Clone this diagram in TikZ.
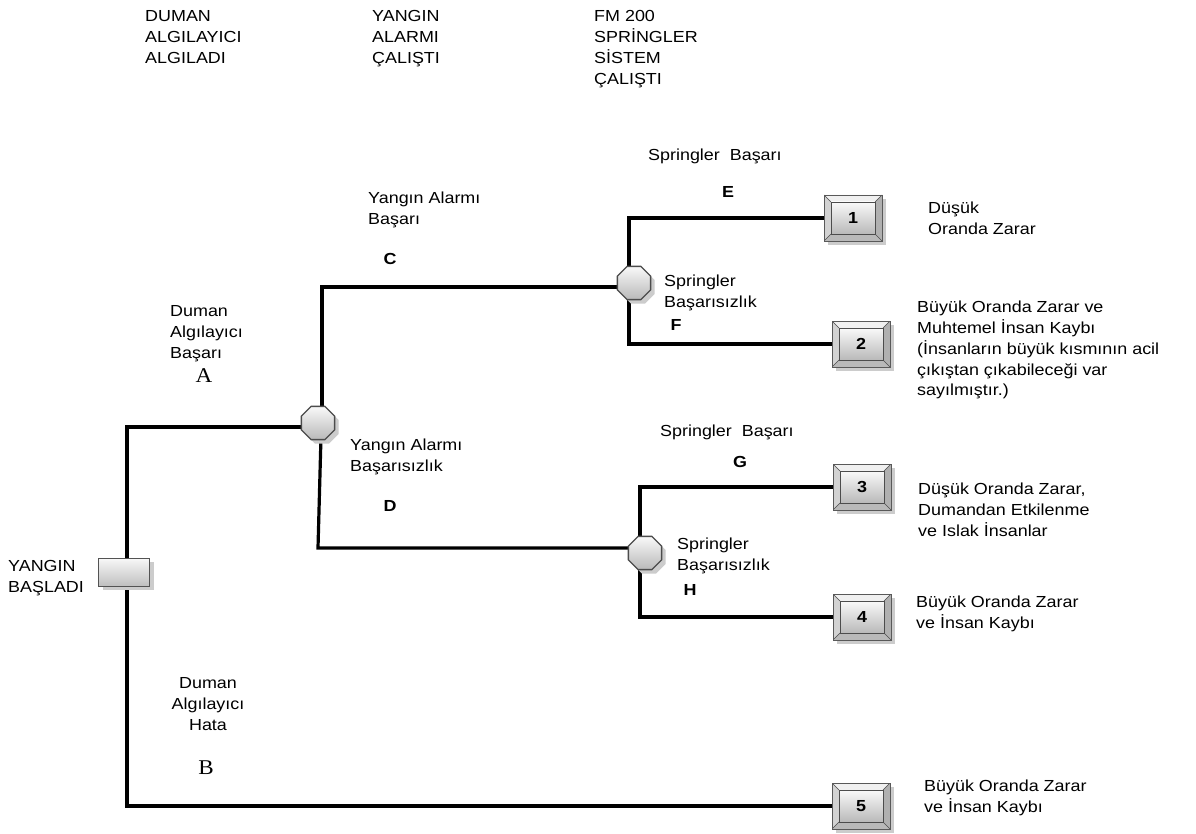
\documentclass[tikz,border=0pt]{standalone}
\usepackage{fontspec}
\setmainfont{Liberation Sans}[FakeStretch=1.12]
\newfontfamily\serifA{Liberation Serif}[FakeStretch=1.1]
\usetikzlibrary{shapes.geometric,shadows,calc,backgrounds}
\tikzset{
  lbl/.style={anchor=north west, inner sep=0pt, align=left, font=\fontsize{16}{20.8}\selectfont},
  clbl/.style={anchor=north, inner sep=0pt, align=center, font=\fontsize{16}{20.8}\selectfont},
  letter/.style={inner sep=0pt, font=\fontsize{16}{19}\selectfont\bfseries},
  serifletter/.style={inner sep=0pt, font=\fontsize{21}{24}\selectfont\serifA},
  conn/.style={line width=3.2pt, line join=miter, line cap=rect},
  shad/.style={drop shadow={shadow xshift=4pt, shadow yshift=-4pt, fill=gray!40, opacity=1}},
  startbox/.style={rectangle, minimum width=51pt, minimum height=28pt, inner sep=0pt,
    draw=gray!65!black, line width=1pt, top color=gray!5, bottom color=gray!50, shad},
  oct/.style={regular polygon, regular polygon sides=8, minimum size=36pt, inner sep=0pt,
    draw=gray!60!black, line width=1.3pt, top color=gray!5, bottom color=gray!55, shad},
  endbox/.style={rectangle, minimum width=58pt, minimum height=46pt, inner sep=0pt,
    draw=gray!70!black, line width=0.8pt, fill=gray!55, shad,
    font=\fontsize{16}{19}\selectfont\bfseries,
    path picture={
      \fill[gray!12] (path picture bounding box.north west) -- (path picture bounding box.north east)
        -- ($(path picture bounding box.north east)+(-7pt,-7pt)$) -- ($(path picture bounding box.north west)+(7pt,-7pt)$) -- cycle;
      \fill[gray!35] (path picture bounding box.north west) -- (path picture bounding box.south west)
        -- ($(path picture bounding box.south west)+(7pt,7pt)$) -- ($(path picture bounding box.north west)+(7pt,-7pt)$) -- cycle;
      \fill[gray!62] (path picture bounding box.north east) -- (path picture bounding box.south east)
        -- ($(path picture bounding box.south east)+(-7pt,7pt)$) -- ($(path picture bounding box.north east)+(-7pt,-7pt)$) -- cycle;
      \fill[gray!55] (path picture bounding box.south west) -- (path picture bounding box.south east)
        -- ($(path picture bounding box.south east)+(-7pt,7pt)$) -- ($(path picture bounding box.south west)+(7pt,7pt)$) -- cycle;
      \shade[top color=gray!5, bottom color=gray!55, draw=gray!60!black, line width=0.6pt]
        ($(path picture bounding box.north west)+(7pt,-7pt)$) rectangle ($(path picture bounding box.south east)+(-7pt,7pt)$);
      \draw[gray!60!black, line width=0.6pt]
        (path picture bounding box.north west) -- ($(path picture bounding box.north west)+(7pt,-7pt)$)
        (path picture bounding box.north east) -- ($(path picture bounding box.north east)+(-7pt,-7pt)$)
        (path picture bounding box.south west) -- ($(path picture bounding box.south west)+(7pt,7pt)$)
        (path picture bounding box.south east) -- ($(path picture bounding box.south east)+(-7pt,7pt)$);
    }},
}
\begin{document}
\begin{tikzpicture}[x=1pt,y=-1pt]
\useasboundingbox (0,0) rectangle (1196,834);

% headings
\node[lbl] (h1) at (145,7) {\strut DUMAN\\ALGILAYICI\\ALGILADI};
\node[lbl] (h2) at (372,7) {\strut YANGIN\\ALARMI\\ÇALIŞTI};
\node[lbl] (h3) at (594,7) {\strut FM 200\\SPRİNGLER\\SİSTEM\\ÇALIŞTI};

% nodes
\node[startbox] (start) at (124,572) {};
\node[oct] (oct1) at (318,423) {};
\node[oct] (oct2) at (634,283) {};
\node[oct] (oct3) at (645,553) {};
\node[endbox] (box1) at (853,218) {1};
\node[endbox] (box2) at (861,344) {2};
\node[endbox] (box3) at (862,487) {3};
\node[endbox] (box4) at (862,617) {4};
\node[endbox] (box5) at (861,806) {5};

% connector corners
\coordinate (j0t) at (127,427);
\coordinate (j0b) at (127,806);
\coordinate (u1) at (322,287);
\coordinate (d1a) at (321,436);
\coordinate (d1) at (318,548);
\coordinate (v2) at (629,283);
\coordinate (v3) at (640,553);

\begin{scope}[on background layer]
  \fill[white] (0,0) rectangle (1196,834);
  \draw[conn] (j0t) -- (j0b);
  \draw[conn] (j0t) -- (j0t -| oct1);
  \draw[conn] (j0b) -- (box5);
  \draw[conn] (u1 |- oct1) -- (u1) -- (u1 -| oct2);
  \draw[conn] (d1a) -- (d1) -- (d1 -| oct3);
  \draw[conn] (v2) -- (v2 |- box1) -- (box1);
  \draw[conn] (v2) -- (v2 |- box2) -- (box2);
  \draw[conn] (v3) -- (v3 |- box3) -- (box3);
  \draw[conn] (v3) -- (v3 |- box4) -- (box4);
\end{scope}

% labels
\node[lbl] (t0) at (8,557) {\strut YANGIN\\BAŞLADI};
\node[lbl] (tA) at (170,302) {\strut Duman\\Algılayıcı\\Başarı};
\node[serifletter] (lA) at (204,376) {A};
\node[clbl] (tB) at (208,674) {\strut Duman\\Algılayıcı\\Hata};
\node[serifletter] (lB) at (206,768) {B};
\node[lbl] (tC) at (368,189) {\strut Yangın Alarmı\\Başarı};
\node[letter] (lC) at (390,259) {C};
\node[lbl] (tD) at (350,436) {\strut Yangın Alarmı\\Başarısızlık};
\node[letter] (lD) at (390,506) {D};
\node[lbl] (tE) at (648,146) {\strut Springler~ Başarı};
\node[letter] (lE) at (728,192) {E};
\node[lbl] (tF) at (664,272) {\strut Springler\\Başarısızlık};
\node[letter] (lF) at (676,325) {F};
\node[lbl] (tG) at (660,422) {\strut Springler~ Başarı};
\node[letter] (lG) at (740,462) {G};
\node[lbl] (tH) at (677,535) {\strut Springler\\Başarısızlık};
\node[letter] (lH) at (690,590) {H};

% outcomes
\node[lbl] (o1) at (928,199) {\strut Düşük\\Oranda Zarar};
\node[lbl] (o2) at (917,298) {\strut Büyük Oranda Zarar ve\\Muhtemel İnsan Kaybı\\(İnsanların büyük kısmının acil\\çıkıştan çıkabileceği var\\sayılmıştır.)};
\node[lbl] (o3) at (918,480) {\strut Düşük Oranda Zarar,\\Dumandan Etkilenme\\ve Islak İnsanlar};
\node[lbl] (o4) at (916,593) {\strut Büyük Oranda Zarar\\ve İnsan Kaybı};
\node[lbl] (o5) at (924,777) {\strut Büyük Oranda Zarar\\ve İnsan Kaybı};
\end{tikzpicture}
\end{document}
